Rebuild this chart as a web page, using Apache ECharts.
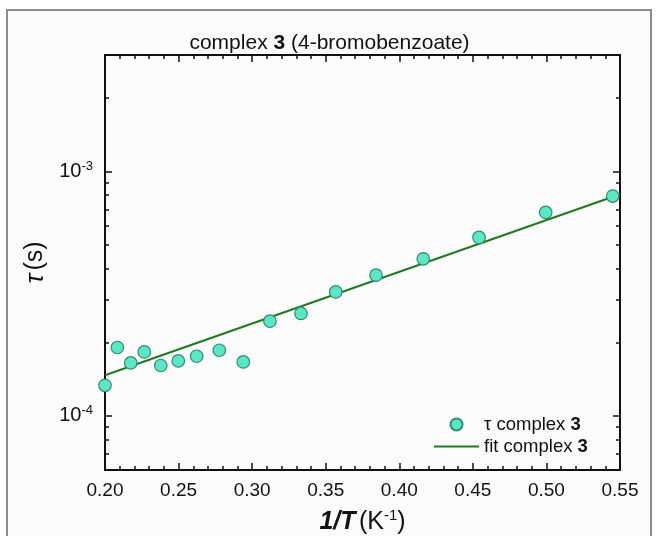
<!DOCTYPE html>
<html>
<head>
<meta charset="utf-8">
<script src="https://cdn.jsdelivr.net/npm/echarts@6/dist/echarts.min.js"></script>
<style>html,body{margin:0;padding:0;background:#fff}#c{width:659px;height:536px}</style>
</head>
<body>
<div id="c"></div>
<script>
// Data
var invT = [0.2000, 0.2084, 0.2175, 0.2267, 0.2379, 0.2498, 0.2623, 0.2777, 0.2940, 0.3121, 0.3332, 0.3568, 0.3842, 0.4163, 0.4542, 0.4995, 0.5450];
var tau = [1.333e-4, 1.904e-4, 1.646e-4, 1.826e-4, 1.607e-4, 1.677e-4, 1.753e-4, 1.855e-4, 1.662e-4, 2.44e-4, 2.624e-4, 3.216e-4, 3.765e-4, 4.391e-4, 5.375e-4, 6.804e-4, 7.933e-4];
var fitX = [0.20, 0.55];
var fitY = [1.466e-4, 8.07e-4];
var xTicks = [0.20, 0.25, 0.30, 0.35, 0.40, 0.45, 0.50, 0.55];
var yMajor = [1e-4, 1e-3];
var yMinor = [6e-5, 7e-5, 8e-5, 9e-5, 2e-4, 3e-4, 4e-4, 5e-4, 6e-4, 7e-4, 8e-4, 9e-4, 2e-3, 3e-3];

var FONT = 'Liberation Sans, Arial, sans-serif';
var chart = echarts.init(document.getElementById('c'));

function pts(xs, ys) { return xs.map(function (x, i) { return [x, ys[i]]; }); }
function yLabel(v) {
  var l = Math.log10(v), e = Math.round(l);
  if (Math.abs(l - e) > 1e-6) return '';
  return '{b|10}{s|' + e + '}';
}
var axisLine = { show: true, onZero: false, lineStyle: { color: '#111', width: 2 } };
var yRich = { b: { fontSize: 20, fontFamily: FONT, color: '#111' }, s: { fontSize: 13, fontFamily: FONT, color: '#111', padding: [0, 0, 11, 0] } };

function yAxisDef(pos, major, labels) {
  return {
    type: 'log', logBase: 10, position: pos, min: 6e-5, max: 3e-3,
    axisLine: axisLine,
    axisTick: { show: true, inside: true, length: major ? 7 : 4, lineStyle: { color: '#111', width: 1.5 }, customValues: major ? yMajor : yMinor },
    axisLabel: labels ? { show: true, formatter: yLabel, rich: yRich, margin: 12, customValues: yMajor } : { show: false },
    splitLine: { show: false },
    minorTick: { show: false }
  };
}

var option = {
  backgroundColor: '#ffffff',
  animation: false,
  graphic: [{
    type: 'rect', z: -100, silent: true,
    shape: { x: 7, y: 10, width: 644, height: 540 },
    style: { fill: '#fbfbfb', stroke: '#8c8c8c', lineWidth: 2 }
  }],
  title: {
    text: '{r|complex }{b|3}{r| (4-bromobenzoate)}',
    left: 'center', top: 28,
    textStyle: { rich: { r: { fontSize: 21, fontWeight: 'normal', fontFamily: FONT, color: '#111' }, b: { fontSize: 21, fontWeight: 'bold', fontFamily: FONT, color: '#111' } } }
  },
  grid: { left: 105, right: 39, top: 55, bottom: 66, containLabel: false, outerBoundsMode: 'none' },
  legend: {
    orient: 'vertical', left: 428, top: 410, itemWidth: 45, itemHeight: 12, itemGap: 3,
    data: [{ name: 'tau' }, { name: 'fit', itemStyle: { opacity: 0 } }],
    formatter: function (n) { return n === 'tau' ? '{r|τ complex }{b|3}' : '{r|fit complex }{b|3}'; },
    textStyle: { rich: { r: { fontSize: 18.5, fontFamily: FONT, color: '#111' }, b: { fontSize: 18.5, fontWeight: 'bold', fontFamily: FONT, color: '#111' } } }
  },
  xAxis: [{
    type: 'value', position: 'bottom', min: 0.20, max: 0.55, interval: 0.05,
    axisLine: axisLine,
    axisTick: { show: true, inside: true, length: 7, lineStyle: { color: '#111', width: 1.5 } },
    minorTick: { show: true, splitNumber: 5, length: 4, lineStyle: { color: '#111', width: 1.5 } },
    axisLabel: { show: true, fontSize: 19, fontFamily: FONT, color: '#111', margin: 11, formatter: function (v) { return v.toFixed(2); } },
    splitLine: { show: false }, minorSplitLine: { show: false },
    name: '{bi|1/T} {r|(K}{s|-1}{r|)}', nameLocation: 'middle', nameGap: 38,
    nameTextStyle: { rich: {
      bi: { fontSize: 25, fontWeight: 'bold', fontStyle: 'italic', fontFamily: FONT, color: '#111' },
      r: { fontSize: 25, fontFamily: FONT, color: '#111' },
      s: { fontSize: 15, fontFamily: FONT, color: '#111', padding: [0, 0, 13, 0] } } }
  }, {
    type: 'value', position: 'top', min: 0.20, max: 0.55, interval: 0.05,
    axisLine: axisLine,
    axisTick: { show: true, inside: true, length: 7, lineStyle: { color: '#111', width: 1.5 } },
    minorTick: { show: true, splitNumber: 5, length: 4, lineStyle: { color: '#111', width: 1.5 } },
    axisLabel: { show: false }, splitLine: { show: false }, minorSplitLine: { show: false }
  }],
  yAxis: [
    Object.assign(yAxisDef('left', true, true), {
      name: '{i|τ} {r|(s)}', nameLocation: 'middle', nameGap: 52, nameRotate: 90,
      nameTextStyle: { rich: {
        i: { fontSize: 26, fontStyle: 'italic', fontFamily: FONT, color: '#111' },
        r: { fontSize: 25, fontFamily: FONT, color: '#111' } } }
    }),
    yAxisDef('left', false, false),
    yAxisDef('right', true, false),
    yAxisDef('right', false, false)
  ],
  series: [{
    name: 'fit', type: 'line', xAxisIndex: 0, yAxisIndex: 0,
    data: pts(fitX, fitY), symbol: 'none',
    lineStyle: { color: '#1f7a1f', width: 2 }, itemStyle: { color: '#1f7a1f' }, z: 3
  }, {
    name: 'tau', type: 'scatter', xAxisIndex: 0, yAxisIndex: 0,
    data: pts(invT, tau), symbol: 'circle', symbolSize: 12.5,
    itemStyle: { color: '#5de6c4', borderColor: '#2f8c76', borderWidth: 1.2, opacity: 1 }, z: 4,
    clip: true
  }]
};
chart.setOption(option);
</script>
</body>
</html>
